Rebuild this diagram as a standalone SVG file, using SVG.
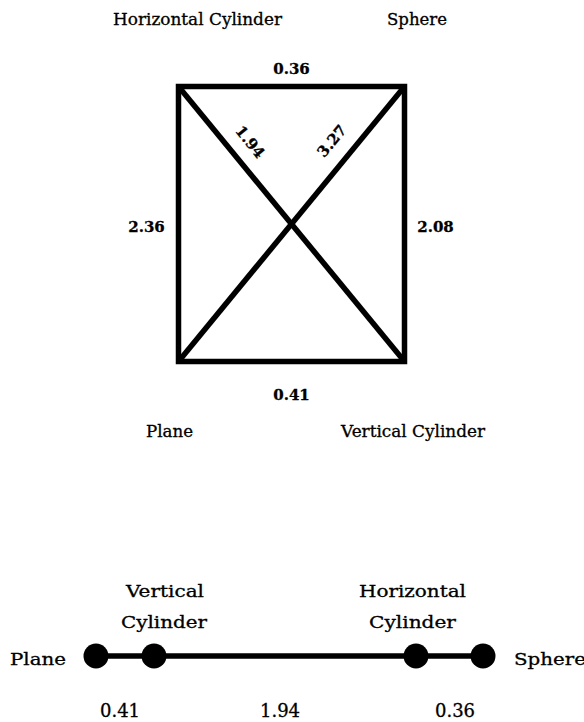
<svg xmlns="http://www.w3.org/2000/svg" width="584" height="722" viewBox="0 0 584 722">
  <style>
    .lbl { font-family: "DejaVu Serif", "Liberation Serif", serif; font-size: 16px; fill: #000; stroke: #000; stroke-width: 0.3; }
    .lbl2 { font-family: "DejaVu Serif", "Liberation Serif", serif; font-size: 17px; fill: #000; stroke: #000; stroke-width: 0.3; }
    .num { font-family: "DejaVu Serif", "Liberation Serif", serif; font-size: 15px; font-weight: bold; fill: #000; stroke: #000; stroke-width: 0.3; }
    .num2 { font-family: "DejaVu Serif", "Liberation Serif", serif; font-size: 18px; fill: #000; stroke: #000; stroke-width: 0.3; }
    .edge { stroke: #000; stroke-width: 5.5; fill: none; stroke-linecap: square; stroke-linejoin: miter; }
    .edge2 { stroke: #000; stroke-width: 5.5; fill: none; }
    .dot { fill: #000; }
  </style>
  <rect width="584" height="722" fill="#fff"/>

  <!-- Top diagram: nodes -->
  <g id="top-horizontal-cylinder">
    <text class="lbl" x="113" y="24.5" textLength="169" lengthAdjust="spacingAndGlyphs">Horizontal Cylinder</text>
  </g>
  <g id="top-sphere">
    <text class="lbl" x="387" y="24.5" textLength="60" lengthAdjust="spacingAndGlyphs">Sphere</text>
  </g>
  <g id="top-plane">
    <text class="lbl" x="146" y="437" textLength="47" lengthAdjust="spacingAndGlyphs">Plane</text>
  </g>
  <g id="top-vertical-cylinder">
    <text class="lbl" x="341" y="437" textLength="144" lengthAdjust="spacingAndGlyphs">Vertical Cylinder</text>
  </g>

  <!-- Top diagram: connectors -->
  <g id="top-connectors">
    <polygon class="edge" points="178.5,86.5 404.5,86.5 404.5,361.5 178.5,361.5"/>
    <line class="edge2" x1="178.5" y1="86.5" x2="404.5" y2="361.5"/>
    <line class="edge2" x1="178.5" y1="361.5" x2="404.5" y2="86.5"/>
    <text class="num" x="291.5" y="74" text-anchor="middle">0.36</text>
    <text class="num" x="291.5" y="400" text-anchor="middle">0.41</text>
    <text class="num" x="146.5" y="232" text-anchor="middle">2.36</text>
    <text class="num" x="435.5" y="232" text-anchor="middle">2.08</text>
    <text class="num" transform="translate(250,142) rotate(50.5)" x="0" y="5" text-anchor="middle">1.94</text>
    <text class="num" transform="translate(332,141) rotate(-50.5)" x="0" y="5" text-anchor="middle">3.27</text>
  </g>

  <!-- Bottom diagram: connectors -->
  <g id="bottom-connectors">
    <line class="edge2" x1="96" y1="656" x2="483" y2="656"/>
    <text class="num2" x="120" y="717" text-anchor="middle">0.41</text>
    <text class="num2" x="280" y="717" text-anchor="middle">1.94</text>
    <text class="num2" x="455" y="717" text-anchor="middle">0.36</text>
  </g>

  <!-- Bottom diagram: nodes -->
  <g id="bottom-plane">
    <circle class="dot" cx="96" cy="656" r="12.5"/>
    <text class="lbl2" x="10" y="665" textLength="56" lengthAdjust="spacingAndGlyphs">Plane</text>
  </g>
  <g id="bottom-vertical-cylinder">
    <circle class="dot" cx="154" cy="656" r="12.5"/>
    <text class="lbl2" x="126" y="597" textLength="78" lengthAdjust="spacingAndGlyphs">Vertical</text>
    <text class="lbl2" x="121" y="628" textLength="86" lengthAdjust="spacingAndGlyphs">Cylinder</text>
  </g>
  <g id="bottom-horizontal-cylinder">
    <circle class="dot" cx="416" cy="656" r="12.5"/>
    <text class="lbl2" x="359" y="597" textLength="107" lengthAdjust="spacingAndGlyphs">Horizontal</text>
    <text class="lbl2" x="369" y="628" textLength="87" lengthAdjust="spacingAndGlyphs">Cylinder</text>
  </g>
  <g id="bottom-sphere">
    <circle class="dot" cx="483" cy="656" r="12.5"/>
    <text class="lbl2" x="514" y="665" textLength="72" lengthAdjust="spacingAndGlyphs">Sphere</text>
  </g>
</svg>
